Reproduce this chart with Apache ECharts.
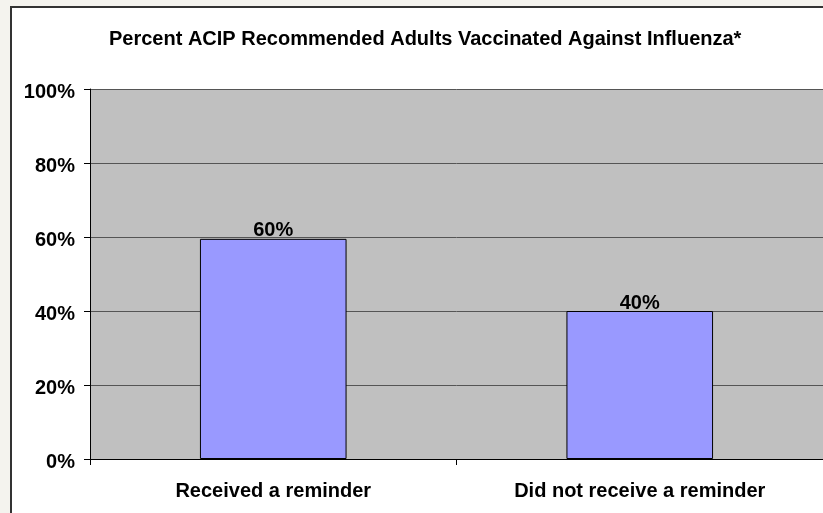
<!DOCTYPE html>
<html><head><meta charset="utf-8">
<script src="https://cdn.jsdelivr.net/npm/echarts@6/dist/echarts.min.js"></script>
<style>html,body{margin:0;padding:0;background:#F4F3EE;}#c{width:823px;height:513px;}</style>
</head><body><div id="c"></div>
<script>
const categories = ['Received a reminder', 'Did not receive a reminder'];
const values = [59.5, 40];
const yTicks = [0, 20, 40, 60, 80, 100];

const chart = echarts.init(document.getElementById('c'), null, {renderer: 'canvas'});
const lblFont = {fontFamily: 'Arial, Liberation Sans', fontWeight: 'bold', fontSize: 20, color: '#000'};
chart.setOption({
  animation: false,
  backgroundColor: '#F4F3EE',
  graphic: [{
    type: 'rect', z: -10, silent: true,
    shape: {x: 11, y: 7, width: 900, height: 600},
    style: {fill: '#FFFFFF', stroke: '#333333', lineWidth: 2}
  }],
  title: {
    text: 'Percent ACIP Recommended Adults Vaccinated Against Influenza*',
    left: 104, top: 24,
    textStyle: lblFont
  },
  grid: {left: 90, top: 89, width: 740, height: 370, show: true, backgroundColor: '#C0C0C0', borderWidth: 0, containLabel: false},
  xAxis: {
    type: 'category', data: categories,
    axisLine: {show: true, lineStyle: {color: '#000', width: 1}},
    axisTick: {show: true, length: 6, lineStyle: {color: '#000'}},
    axisLabel: Object.assign({margin: 22}, lblFont)
  },
  yAxis: {
    type: 'value', min: 0, max: 100, interval: 20,
    axisLine: {show: true, lineStyle: {color: '#000', width: 1}},
    axisTick: {show: true, length: 6, lineStyle: {color: '#000'}},
    splitLine: {show: true, lineStyle: {color: '#555', width: 1}},
    axisLabel: Object.assign({margin: 15,
      formatter: v => yTicks.includes(v) ? '{v|' + v + '%}' : '',
      rich: {v: Object.assign({padding: [6, 0, 0, 0]}, lblFont)}}, lblFont)
  },
  series: [{
    type: 'bar', data: values, barWidth: '40%',
    itemStyle: {color: '#9999FF', borderColor: '#000', borderWidth: 1},
    label: Object.assign({show: true, position: 'top', distance: -2,
      formatter: p => Math.round(p.value) + '%'}, lblFont)
  }]
});
</script></body></html>
